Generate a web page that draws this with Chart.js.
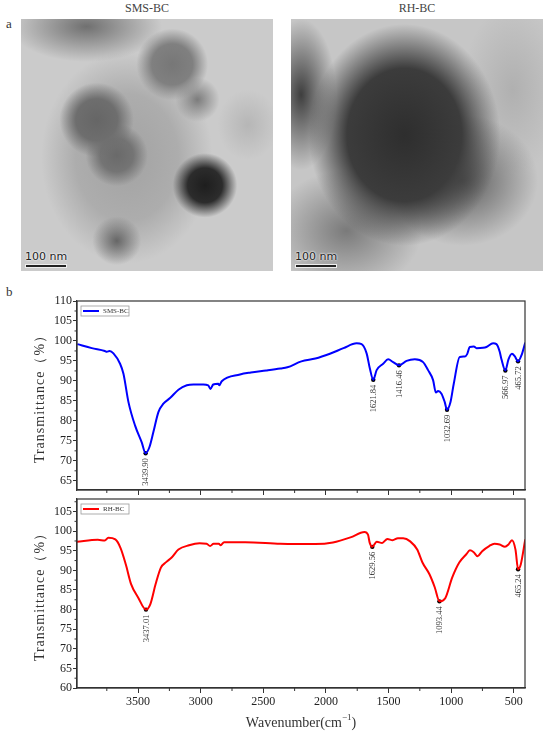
<!DOCTYPE html>
<html>
<head>
<meta charset="utf-8">
<script src="https://cdn.jsdelivr.net/npm/chart.js@4.4.1/dist/chart.umd.min.js"></script>
<style>
  body { margin: 0; background: #fff; width: 550px; height: 736px; position: relative; overflow: hidden; font-family: 'Liberation Serif', serif; }
  .panel { position: absolute; font-size: 13px; color: #333; }
  .title { position: absolute; top: 1px; width: 252px; text-align: center; font-size: 12px; color: #444; }
  .tem { position: absolute; top: 19px; width: 252px; height: 252px; overflow: hidden; }
  .bar { position: absolute; left: 4px; bottom: 3px; font: 11px 'DejaVu Sans', sans-serif; color: #222; white-space: nowrap; text-shadow: 0 0 2px #fff, 0 0 2px #fff; }
  .bar div { width: 40px; height: 2px; background: #222; margin-top: 1px; border: 1px solid #eee; }
  canvas { position: absolute; left: 0; }
</style>
</head>
<body>
<div class="panel" style="left:6px;top:16px">a</div>
<div class="panel" style="left:6px;top:284px">b</div>
<div class="title" style="left:21px">SMS-BC</div>
<div class="title" style="left:291px">RH-BC</div>
<div class="tem" style="left:21px;background:
  radial-gradient(circle at 73% 66%, #1e1e1e 0, #2c2c2c 7%, rgba(90,90,90,0) 13%),
  radial-gradient(circle at 30% 40%, #666 0, #6e6e6e 9%, rgba(110,110,110,0) 16%),
  radial-gradient(circle at 38% 54%, #6a6a6a 0, #747474 8%, rgba(110,110,110,0) 15%),
  radial-gradient(circle at 60% 18%, #777 0, #808080 8%, rgba(120,120,120,0) 14%),
  radial-gradient(circle at 70% 32%, #7c7c7c 0, rgba(120,120,120,0) 9%),
  radial-gradient(ellipse 30% 14% at 26% 3%, #707070 0, rgba(110,110,110,0) 100%),
  radial-gradient(circle at 38% 88%, #666 0, rgba(110,110,110,0) 9%),
  radial-gradient(ellipse 34% 42% at 42% 55%, #a2a2a2 0, #adadad 60%, rgba(200,200,200,0) 100%),
  radial-gradient(ellipse 12% 14% at 90% 42%, #b6b6b6 0, rgba(200,200,200,0) 100%),
  #cbcbcb;">
  <div class="bar">100 nm<div></div></div>
</div>
<div class="tem" style="left:291px;background:
  radial-gradient(ellipse 38% 44% at 45% 46%, #2e2e2e 0, #3c3c3c 60%, rgba(90,90,90,0) 100%),
  radial-gradient(ellipse 30% 26% at 68% 64%, #5a5a5a 0, rgba(120,120,120,0) 100%),
  radial-gradient(ellipse 14% 30% at 4% 30%, #3e3e3e 0, rgba(120,120,120,0) 100%),
  radial-gradient(ellipse 30% 24% at 22% 84%, #7a7a7a 0, rgba(140,140,140,0) 100%),
  radial-gradient(ellipse 20% 34% at 88% 28%, #b0b0b0 0, rgba(190,190,190,0) 100%),
  #c6c6c6;">
  <div class="bar">100 nm<div></div></div>
</div>
<canvas id="topChart" width="550" height="210" style="top:290px"></canvas>
<canvas id="bottomChart" width="550" height="248" style="top:488px"></canvas>
<script>
// wavenumber axis (cm-1), drawn reversed
const xMin = 410;
const xMax = 3988;
const xMajorTicks = [500, 1000, 1500, 2000, 2500, 3000, 3500];
const xMinorTicks = [750, 1250, 1750, 2250, 2750, 3250, 3750];

// SMS-BC spectrum
const smsWn = [3985, 3870, 3766, 3750, 3728, 3697, 3644, 3617, 3577, 3524, 3471, 3440, 3410, 3378, 3338, 3298, 3245, 3178, 3111, 3058,
  2979, 2940, 2922, 2900, 2860, 2851, 2832, 2686, 2600, 2477, 2364, 2308, 2196, 2084, 1968, 1860, 1755, 1715, 1675, 1649,
  1622, 1595, 1543, 1503, 1463, 1416, 1356, 1290, 1224, 1184, 1144, 1122, 1104, 1077, 1051, 1033, 1005, 979, 931, 891,
  872, 851, 819, 797, 745, 718, 665, 638, 612, 598, 567, 542, 514, 492, 466, 436, 408];
const smsT = [99.2, 98.2, 97.5, 97.3, 97.5, 96.9, 94.3, 91.8, 84.7, 78.8, 74.6, 71.9, 73.4, 77.2, 82.2, 84.3, 85.7, 87.8, 88.9, 89.1,
  89.1, 88.9, 88.0, 89.1, 89.3, 88.9, 89.9, 91.6, 92.1, 92.6, 93.1, 93.4, 94.9, 95.6, 96.8, 98.2, 99.4, 99.2, 96.9, 93.1,
  90.3, 92.7, 94.3, 95.4, 94.7, 93.9, 95.0, 95.4, 94.7, 92.7, 90.2, 87.1, 87.5, 86.8, 84.7, 82.8, 84.7, 89.3, 96.0, 96.1,
  96.7, 98.5, 98.6, 98.2, 98.3, 98.5, 99.4, 99.2, 97.3, 95.4, 92.6, 95.4, 96.8, 96.2, 94.9, 96.6, 99.6];
const smsPeakWn = [3439.90, 1621.84, 1416.46, 1032.69, 566.97, 465.72];
const smsPeakT = [71.9, 90.3, 93.9, 82.8, 92.6, 94.9];
const smsPeakLabels = ['3439.90', '1621.84', '1416.46', '1032.69', '566.97', '465.72'];

// RH-BC spectrum
const rhWn = [3990, 3822, 3766, 3738, 3682, 3640, 3598, 3556, 3500, 3437, 3402, 3360, 3318, 3276, 3234, 3178, 3093, 3009, 2953, 2925,
  2897, 2855, 2841, 2813, 2645, 2364, 2084, 1944, 1804, 1692, 1664, 1650, 1630, 1594, 1551, 1509, 1467, 1425, 1383, 1327,
  1271, 1229, 1173, 1131, 1093, 1047, 991, 935, 879, 850, 822, 789, 752, 696, 654, 612, 570, 542, 514, 486,
  465, 444, 408];
const rhT = [97.3, 97.8, 97.6, 98.3, 97.9, 95.7, 91.5, 86.5, 83.1, 80.0, 81.4, 86.5, 90.7, 92.1, 93.2, 95.3, 96.4, 96.9, 96.8, 96.2,
  96.8, 96.8, 96.4, 97.2, 97.2, 96.8, 96.7, 97.1, 98.4, 99.8, 99.1, 97.0, 96.0, 97.3, 97.0, 98.0, 97.7, 98.2, 98.2, 97.4,
  95.3, 92.0, 89.0, 85.7, 82.1, 82.9, 88.2, 92.0, 94.1, 95.1, 94.7, 93.6, 94.9, 96.2, 96.8, 96.6, 96.0, 96.6, 97.7, 95.3,
  90.3, 91.5, 97.9];
const rhPeakWn = [3437.01, 1629.56, 1093.44, 465.24];
const rhPeakT = [80.0, 96.0, 82.1, 90.3];
const rhPeakLabels = ['3437.01', '1629.56', '1093.44', '465.24'];

// y axes
const yTicksTop = [65, 70, 75, 80, 85, 90, 95, 100, 105, 110];
const yMinorTop = [67.5, 72.5, 77.5, 82.5, 87.5, 92.5, 97.5, 102.5, 107.5];
const yTicksBottom = [60, 65, 70, 75, 80, 85, 90, 95, 100, 105];
const yMinorBottom = [62.5, 67.5, 72.5, 77.5, 82.5, 87.5, 92.5, 97.5, 102.5, 107.5];

const INK = '#333';
const SERIF = "'Liberation Serif', 'DejaVu Serif', serif";

function pts(xs, ys) {
  return xs.map((x, i) => ({ x: x, y: ys[i] }));
}

// box round the plot, minor ticks, legend, peak labels, axis titles
const extras = {
  id: 'extras',
  afterDraw(chart, args, o) {
    const ctx = chart.ctx;
    const { left, right, top, bottom } = chart.chartArea;
    const xs = chart.scales.x, ys = chart.scales.y;
    ctx.save();
    ctx.strokeStyle = INK;
    ctx.lineWidth = 1.2;
    ctx.strokeRect(left, top, right - left, bottom - top);

    ctx.lineWidth = 1;
    ctx.beginPath();
    o.xMinor.forEach(v => {
      const px = xs.getPixelForValue(v);
      ctx.moveTo(px, bottom);
      ctx.lineTo(px, bottom + 3);
    });
    o.yMinor.forEach(v => {
      const py = ys.getPixelForValue(v);
      ctx.moveTo(left - 2.5, py);
      ctx.lineTo(left, py);
    });
    ctx.stroke();

    // legend
    const lx = left + 4, ly = top + 5;
    ctx.fillStyle = '#fff';
    ctx.strokeStyle = '#999';
    ctx.lineWidth = 0.8;
    ctx.fillRect(lx, ly, 48, 10);
    ctx.strokeRect(lx, ly, 48, 10);
    ctx.strokeStyle = o.color;
    ctx.lineWidth = 2;
    ctx.beginPath();
    ctx.moveTo(lx + 2, ly + 5);
    ctx.lineTo(lx + 18, ly + 5);
    ctx.stroke();
    ctx.fillStyle = INK;
    ctx.font = '7px ' + SERIF;
    ctx.textBaseline = 'middle';
    ctx.textAlign = 'left';
    ctx.fillText(o.name, lx + 22, ly + 5.5);

    // peak labels, rotated, just under each dot
    ctx.font = '8.5px ' + SERIF;
    ctx.textAlign = 'right';
    o.peakWn.forEach((w, i) => {
      const px = xs.getPixelForValue(w);
      const py = ys.getPixelForValue(o.peakT[i]);
      ctx.save();
      ctx.translate(px, py + 5);
      ctx.rotate(-Math.PI / 2);
      ctx.fillText(o.peakLabels[i], 0, 0.5);
      ctx.restore();
    });

    // y title
    ctx.save();
    ctx.font = '14px ' + SERIF;
    ctx.letterSpacing = '1px';
    ctx.textAlign = 'center';
    ctx.translate(40, (top + bottom) / 2);
    ctx.rotate(-Math.PI / 2);
    ctx.fillText('Transmittance（%）', 0, 0);
    ctx.restore();

    // x title
    if (o.xTitle) {
      ctx.textAlign = 'left';
      ctx.textBaseline = 'middle';
      const main = 'Wavenumber(cm', sup = '−1', end = ')';
      ctx.font = '14px ' + SERIF;
      const w1 = ctx.measureText(main).width;
      const w3 = ctx.measureText(end).width;
      ctx.font = '9px ' + SERIF;
      const w2 = ctx.measureText(sup).width;
      const x0 = (left + right) / 2 - (w1 + w2 + w3) / 2;
      const y0 = bottom + 35;
      ctx.font = '14px ' + SERIF;
      ctx.fillText(main, x0, y0);
      ctx.font = '9px ' + SERIF;
      ctx.fillText(sup, x0 + w1, y0 - 5);
      ctx.font = '14px ' + SERIF;
      ctx.fillText(end, x0 + w1 + w2, y0);
    }
    ctx.restore();
  }
};

function makeChart(id, cfg) {
  return new Chart(document.getElementById(id), {
    type: 'line',
    data: {
      datasets: [{
        data: pts(cfg.wn, cfg.t),
        borderColor: cfg.color,
        borderWidth: 2,
        pointRadius: 0,
        cubicInterpolationMode: 'monotone',
        fill: false
      }, {
        type: 'scatter',
        data: pts(cfg.peakWn, cfg.peakT),
        backgroundColor: '#000',
        borderWidth: 0,
        pointRadius: 2.2
      }]
    },
    options: {
      responsive: false,
      animation: false,
      layout: { padding: { left: 0, right: 25, top: 11, bottom: 0 } },
      plugins: {
        legend: { display: false },
        tooltip: { enabled: false },
        extras: {
          xMinor: xMinorTicks, yMinor: cfg.yMinor, color: cfg.color, name: cfg.name,
          peakWn: cfg.peakWn, peakT: cfg.peakT, peakLabels: cfg.peakLabels, xTitle: cfg.showX
        }
      },
      scales: {
        x: {
          type: 'linear',
          reverse: true,
          min: xMin,
          max: xMax,
          afterBuildTicks: s => { s.ticks = xMajorTicks.map(v => ({ value: v })); },
          afterFit: s => { s.height = cfg.xHeight; },
          grid: { drawOnChartArea: false, tickLength: 5, color: INK, lineWidth: 1 },
          border: { color: INK, width: 1.2 },
          ticks: {
            display: cfg.showX, autoSkip: false, maxRotation: 0, padding: 2,
            color: '#222', font: { family: SERIF, size: 12 },
            callback: v => String(v)
          }
        },
        y: {
          min: cfg.yMin,
          max: cfg.yMax,
          afterBuildTicks: s => { s.ticks = cfg.yTicks.map(v => ({ value: v })); },
          afterFit: s => { s.width = 77; },
          grid: { drawOnChartArea: false, tickLength: 4, color: INK, lineWidth: 1 },
          border: { color: INK, width: 1.2 },
          ticks: {
            padding: 1, color: '#222', font: { family: SERIF, size: 12 },
            callback: v => String(v)
          }
        }
      }
    },
    plugins: [extras]
  });
}

makeChart('topChart', {
  wn: smsWn, t: smsT, color: '#0000ff', name: 'SMS-BC',
  peakWn: smsPeakWn, peakT: smsPeakT, peakLabels: smsPeakLabels,
  yMin: 62.7, yMax: 110, yTicks: yTicksTop, yMinor: yMinorTop,
  showX: false, xHeight: 10
});

makeChart('bottomChart', {
  wn: rhWn, t: rhT, color: '#ff0000', name: 'RH-BC',
  peakWn: rhPeakWn, peakT: rhPeakT, peakLabels: rhPeakLabels,
  yMin: 60, yMax: 108.2, yTicks: yTicksBottom, yMinor: yMinorBottom,
  showX: true, xHeight: 48
});
</script>
</body>
</html>
